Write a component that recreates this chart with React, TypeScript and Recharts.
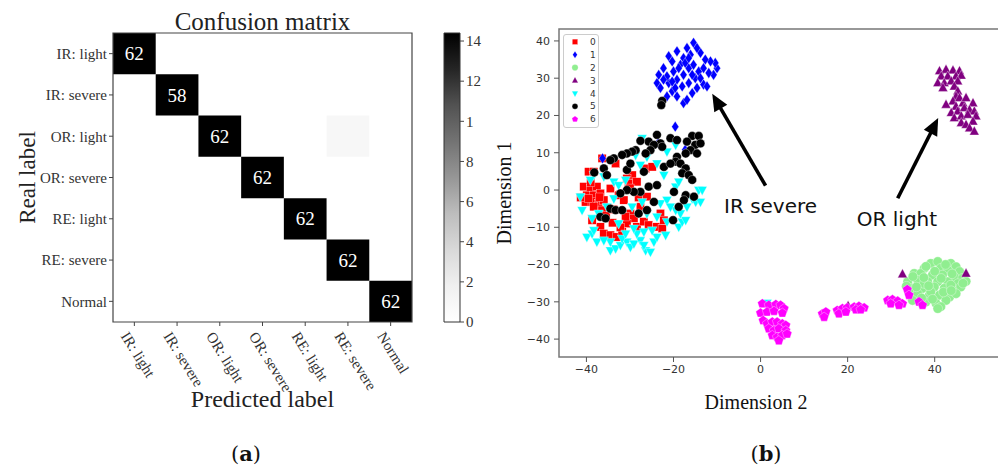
import React from 'react';
import {
  ScatterChart, Scatter, XAxis, YAxis, ReferenceArea, ReferenceLine, ReferenceDot,
  BarChart, Bar, Legend,
} from 'recharts';

// ---------- Panel (a): confusion matrix ----------
const classNames = ['IR: light', 'IR: severe', 'OR: light', 'OR: severe', 'RE: light', 'RE: severe', 'Normal'];
const classIndex = [0, 1, 2, 3, 4, 5, 6];
const diagonalCounts = [62, 58, 62, 62, 62, 62, 62];
const offDiagonalRows = [2];
const offDiagonalCols = [5];
const offDiagonalValues = [1];
const colorbarMax = 14.4;
const colorbarTicks = [0, 2, 4, 6, 8, 10, 12, 14];
const colorbarTickLabels = ['0', '2', '4', '6', '8', '1', '12', '14'];

// ---------- Panel (b): t-SNE scatter ----------
const tsneClasses = ['0', '1', '2', '3', '4', '5', '6'];
const tsneXTicks = [-40, -20, 0, 20, 40];
const tsneYTicks = [-40, -30, -20, -10, 0, 10, 20, 30, 40];
const tsneXDomain = [-46.3, 55];
const tsneYDomain = [-44.8, 43.2];

const class0: number[][] = [
  [-39.5, 4.9], [-38.3, 4.9], [-36.4, 8.5], [-33.3, 7.1], [-29.5, 4.0], [-30.7, 3.1], [-28.4, 2.2], [-26.4, 5.8],
  [-24.9, 6.2], [-40.6, 0.9], [-39.1, 0.4], [-37.6, 0.9], [-39.9, -1.4], [-38.3, -1.4], [-36.8, -0.9], [-40.2, -3.2],
  [-38.7, -3.2], [-37.2, -3.6], [-36.0, -2.7], [-38.3, -4.5], [-34.5, 0.4], [-32.6, -1.4], [-31.4, -2.7], [-29.9, -6.3],
  [-29.1, -7.6], [-30.7, -9.0], [-28.4, -9.9], [-26.8, -8.5], [-25.7, -9.4], [-23.8, -9.9], [-22.6, -10.3], [-23.0, -6.3],
  [-22.2, -8.1], [-36.8, -9.9], [-36.0, -11.7], [-34.5, -12.1], [-33.0, -12.6], [-31.8, -11.2], [-36.4, -5.4], [-38.7, -8.1],
  [-27.6, -4.5], [-26.1, -1.8], [-30.3, 1.8], [-41.3, -2.0], [-39.5, -2.3], [-37.0, -1.9], [-39.0, 2.0], [-35.5, -6.8],
  [-33.8, -5.2], [-31.0, -7.2], [-28.0, -2.0], [-30.0, 0.5], [-34.0, -8.8], [-32.2, -10.0],
];
const class1: number[][] = [
  [-15.4, 39.5], [-16.9, 38.1], [-19.2, 37.2], [-21.1, 35.9], [-20.3, 34.5], [-22.3, 32.7], [-23.4, 30.9], [-23.8, 28.7],
  [-23.0, 27.4], [-21.5, 25.1], [-20.3, 26.5], [-19.2, 25.1], [-17.7, 23.3], [-16.9, 24.2], [-15.7, 26.0], [-14.6, 27.4],
  [-13.1, 28.3], [-12.3, 27.8], [-10.8, 30.9], [-10.0, 32.7], [-10.4, 34.1], [-11.5, 34.5], [-12.7, 35.0], [-13.8, 36.8],
  [-14.6, 38.1], [-16.1, 36.3], [-17.7, 35.4], [-18.4, 33.6], [-20.0, 31.8], [-19.2, 29.6], [-17.7, 30.9], [-16.5, 32.7],
  [-15.4, 33.6], [-14.2, 31.8], [-15.0, 30.0], [-16.5, 28.7], [-18.0, 27.8], [-19.6, 27.4], [-21.1, 28.7], [-21.5, 30.5],
  [-20.3, 29.1], [-15.7, 30.9], [-13.1, 32.7], [-11.9, 31.4], [-13.8, 30.0], [-18.8, 32.7], [-17.3, 34.1], [-16.5, 35.4],
  [-22.3, 29.6], [-19.6, 17.0], [-36.3, 8.5], [-23.5, 12.6], [-17.3, 10.8],
];
const class2: number[][] = [
  [39.1, -19.7], [40.7, -19.2], [43.7, -19.7], [44.9, -20.6], [37.6, -21.0], [41.4, -21.0], [43.0, -21.5], [45.7, -21.9],
  [35.3, -22.4], [36.8, -22.4], [39.5, -22.8], [41.8, -22.8], [44.5, -23.3], [46.4, -23.7], [33.8, -24.6], [36.1, -24.2],
  [38.4, -24.6], [40.7, -24.6], [43.0, -24.6], [45.3, -25.1], [34.5, -26.4], [37.2, -26.4], [39.9, -26.0], [42.2, -26.4],
  [44.1, -26.9], [46.0, -26.0], [36.1, -27.8], [38.8, -28.2], [41.1, -28.2], [43.4, -28.7], [44.9, -27.8], [34.9, -29.6],
  [38.0, -30.0], [40.3, -30.4], [42.6, -29.6], [41.4, -31.3], [40.7, -31.8], [37.6, -25.1], [43.7, -25.5], [39.1, -27.3],
  [38.0, -20.5], [42.5, -20.0], [35.0, -23.2], [40.0, -21.8], [44.0, -22.5], [47.2, -24.5], [37.5, -23.5], [41.5, -23.7],
  [35.8, -26.0], [38.6, -25.7], [42.0, -27.4], [46.5, -25.0], [37.0, -29.0], [39.5, -29.3], [43.8, -27.0], [33.5, -25.8],
];
const class3: number[][] = [
  [41.1, 31.9], [42.6, 32.3], [44.2, 32.1], [45.7, 31.9], [41.5, 30.5], [43.0, 30.5], [44.9, 30.5], [46.1, 30.7],
  [40.7, 28.7], [42.2, 28.7], [43.8, 29.2], [45.3, 29.2], [41.9, 27.4], [44.5, 27.8], [45.3, 26.5], [44.9, 25.1],
  [44.2, 23.8], [45.7, 24.7], [42.6, 22.9], [44.9, 22.4], [46.5, 23.3], [47.2, 24.7], [48.8, 23.3], [43.8, 20.7],
  [45.3, 21.1], [46.8, 22.0], [48.0, 21.5], [49.1, 21.1], [44.5, 19.3], [46.1, 19.8], [47.6, 20.2], [49.5, 19.8],
  [46.1, 18.0], [47.2, 17.5], [48.8, 18.4], [48.0, 16.6], [49.1, 15.7], [32.6, -22.6], [47.2, -22.4], [20.1, -31.1],
];
const class4: number[][] = [
  [-39.9, -12.6], [-38.7, -11.7], [-37.6, -13.9], [-38.3, -10.8], [-34.5, -16.2], [-33.3, -15.7], [-32.2, -14.8], [-30.7, -13.9],
  [-29.9, -15.3], [-29.1, -14.4], [-27.6, -13.5], [-26.4, -16.2], [-25.3, -16.6], [-24.5, -13.9], [-26.8, -14.8], [-23.8, -12.6],
  [-21.8, -12.1], [-34.5, -13.9], [-36.0, -13.5], [-31.8, -13.0], [-31.0, -11.7], [-28.4, -11.7], [-26.8, -11.2], [-24.9, -10.8],
  [-21.5, -8.5], [-18.8, -9.9], [-18.0, -8.5], [-17.2, -8.1], [-18.4, -6.3], [-16.9, -4.5], [-19.5, -5.4], [-15.7, -2.3],
  [-14.2, 0.0], [-13.4, 0.0], [-14.9, -3.2], [-13.8, -3.2], [-41.4, -1.8], [-41.0, -5.4], [-38.7, -7.6], [-37.2, -6.3],
  [-35.3, -4.5], [-33.7, -2.3], [-29.5, -4.5], [-27.2, -3.2], [-23.0, -3.6], [-21.5, -2.7], [-19.5, 0.9], [-18.8, 2.2],
  [-22.2, 4.0], [-23.8, 7.1], [-21.5, 10.3], [-19.5, 12.1], [-26.1, 8.9], [-27.6, 6.7], [-28.7, 9.4], [-31.0, 2.7],
  [-33.7, 2.2], [-32.6, 1.3], [-36.0, 3.6], [-38.3, 4.0], [-39.1, 2.7], [-23.8, -7.2], [-20.7, -4.5], [-26.1, -6.3],
  [-29.1, -10.3], [-32.6, -9.0], [-27.2, 13.9], [1.5, -30.3],
];
const class5: number[][] = [
  [-23.8, 14.8], [-25.7, 13.0], [-27.6, 13.2], [-23.0, 12.5], [-20.7, 13.9], [-19.2, 13.4], [-15.7, 14.5], [-14.2, 14.5],
  [-16.9, 13.0], [-15.0, 12.1], [-13.8, 12.5], [-16.1, 10.7], [-14.6, 9.8], [-17.2, 9.8], [-19.2, 8.9], [-19.5, 7.6],
  [-18.4, 7.1], [-17.2, 5.8], [-18.0, 4.5], [-16.5, 4.0], [-15.7, 2.7], [-22.6, 11.6], [-24.5, 12.1], [-25.3, 10.7],
  [-26.4, 9.8], [-28.7, 10.7], [-29.5, 10.3], [-30.7, 9.8], [-31.8, 9.4], [-33.7, 8.5], [-34.5, 8.0], [-36.0, 5.8],
  [-35.3, 4.0], [-30.7, 5.4], [-29.9, 7.1], [-26.8, 4.9], [-25.7, 0.9], [-23.8, 1.3], [-27.6, -0.5], [-29.1, -0.5],
  [-30.7, 0.0], [-32.2, -0.9], [-34.5, -5.0], [-33.3, -5.4], [-31.8, -5.4], [-36.8, -7.2], [-35.6, -7.6], [-28.0, -6.3],
  [-26.1, -5.4], [-24.5, -3.2], [-19.9, -0.5], [-18.8, -4.5], [-20.1, -8.1], [-17.2, -1.4], [-15.3, -1.8], [-17.6, -2.7],
  [-22.2, 6.2], [-20.7, 7.1], [-22.6, 23.9], [-22.8, 22.8], [-38.2, 4.7],
];
const class6: number[][] = [
  [0.4, -30.5], [1.9, -30.9], [3.5, -30.7], [4.6, -30.9], [5.4, -31.8], [0.0, -33.0], [1.5, -32.7], [3.1, -32.5],
  [5.0, -33.0], [0.6, -35.0], [1.5, -35.9], [2.7, -35.4], [3.8, -35.4], [5.0, -35.9], [5.8, -36.3], [1.9, -37.2],
  [3.1, -37.7], [4.2, -37.2], [5.8, -37.7], [2.7, -39.0], [3.8, -39.5], [5.0, -39.0], [6.1, -38.6], [4.2, -40.4],
  [14.2, -33.2], [15.0, -32.7], [14.6, -34.1], [17.6, -32.3], [18.8, -31.8], [19.9, -31.6], [18.0, -33.2], [19.6, -32.7],
  [21.5, -31.4], [22.6, -31.2], [23.8, -31.6], [21.9, -32.1], [23.0, -32.1], [29.2, -29.6], [30.3, -29.4], [31.5, -29.8],
  [32.6, -30.5], [29.9, -30.5], [31.8, -30.9], [33.7, -26.7], [34.1, -28.2], [36.4, -30.0], [37.2, -30.9],
];
const tsneSeries = [class0, class1, class2, class3, class4, class5, class6];

const annotationLabels = ['IR severe', 'OR light'];
const annotationTextX = [-8.4, 22.1];
const annotationTextY = [-6.1, -9.7];
const arrowTail = [[1.15, 1.16], [31.5, -2.2]];
const arrowHead = [[-11.1, 25.8], [40.8, 19.3]];

// ---------- styles ----------
const SERIF = "'Liberation Serif', 'Times New Roman', serif";
const SANS = "'DejaVu Sans', sans-serif";
const COLORS = ['#ff0000', '#0000ff', '#90ee90', '#800080', '#00ffff', '#000000', '#ff00ff'];
const GREYS = ['#ffffff', '#f0f0f0', '#d9d9d9', '#bdbdbd', '#969696', '#737373', '#525252', '#252525', '#000000'];

function hexToRgb(h: string) {
  return [parseInt(h.slice(1, 3), 16), parseInt(h.slice(3, 5), 16), parseInt(h.slice(5, 7), 16)];
}
function greyFor(v: number) {
  const t = Math.max(0, Math.min(1, v / colorbarMax)) * 8;
  const i = Math.floor(t);
  if (i >= 8) return GREYS[8];
  const f = t - i;
  const a = hexToRgb(GREYS[i]);
  const b = hexToRgb(GREYS[i + 1]);
  const c = a.map((av, k) => Math.round(av + (b[k] - av) * f));
  return `rgb(${c[0]},${c[1]},${c[2]})`;
}

const cells = [
  ...classIndex.map((i) => ({ row: i, col: i, value: diagonalCounts[i] })),
  ...offDiagonalRows.map((r, k) => ({ row: r, col: offDiagonalCols[k], value: offDiagonalValues[k] })),
];

function marker(cls: number, cx: number, cy: number, s = 1, key?: any) {
  const fill = COLORS[cls];
  const st = { stroke: '#ffffff', strokeWidth: 0.35 * s };
  switch (cls) {
    case 0:
      return <rect key={key} x={cx - 4.1 * s} y={cy - 4.1 * s} width={8.2 * s} height={8.2 * s} fill={fill} {...st} />;
    case 1:
      return <polygon key={key} points={`${cx},${cy - 5.4 * s} ${cx + 3.6 * s},${cy} ${cx},${cy + 5.4 * s} ${cx - 3.6 * s},${cy}`} fill={fill} {...st} />;
    case 2:
      return <circle key={key} cx={cx} cy={cy} r={4.8 * s} fill={fill} {...st} />;
    case 3:
      return <polygon key={key} points={`${cx},${cy - 5.4 * s} ${cx + 4.8 * s},${cy + 3.5 * s} ${cx - 4.8 * s},${cy + 3.5 * s}`} fill={fill} {...st} />;
    case 4:
      return <polygon key={key} points={`${cx},${cy + 5.4 * s} ${cx + 4.8 * s},${cy - 3.5 * s} ${cx - 4.8 * s},${cy - 3.5 * s}`} fill={fill} {...st} />;
    case 5:
      return <circle key={key} cx={cx} cy={cy} r={4.4 * s} fill={fill} {...st} />;
    default: {
      const pts = [0, 1, 2, 3, 4].map((k) => {
        const a = -Math.PI / 2 + (k * 2 * Math.PI) / 5;
        return `${cx + 5 * s * Math.cos(a)},${cy + 5 * s * Math.sin(a)}`;
      }).join(' ');
      return <polygon key={key} points={pts} fill={fill} {...st} />;
    }
  }
}

const CMXTick = (props: any) => {
  const { x, y, payload } = props;
  const px = x - 14;
  const py = y + 8;
  return (
    <text x={px} y={py} transform={`rotate(58, ${px}, ${py})`} textAnchor="start" fontSize={15} fontFamily={SERIF} fill="#333">
      {classNames[payload.value]}
    </text>
  );
};

const CellText = (props: any) => {
  const { cx, cy, payload } = props;
  if (!payload || payload.value < 10) return <g />;
  return (
    <text x={cx} y={cy} dy="0.35em" textAnchor="middle" fontSize={19} fontFamily={SERIF} fill="#ffffff">
      {payload.value}
    </text>
  );
};

const Arrow = (p: any) => {
  const { x1, y1, x2, y2 } = p;
  const dx = x2 - x1;
  const dy = y2 - y1;
  const len = Math.hypot(dx, dy) || 1;
  const ux = dx / len;
  const uy = dy / len;
  const hl = 17;
  const hw = 7.5;
  const bx = x2 - ux * hl;
  const by = y2 - uy * hl;
  return (
    <g>
      <line x1={x1} y1={y1} x2={bx + ux * 2} y2={by + uy * 2} stroke="#000" strokeWidth={3.6} />
      <polygon points={`${x2},${y2} ${bx - uy * hw},${by + ux * hw} ${bx + uy * hw},${by - ux * hw}`} fill="#000" />
    </g>
  );
};

const TsneLegend = () => (
  <div style={{ border: '1px solid #cccccc', borderRadius: 3, background: '#fff', width: 36, height: 94, boxSizing: 'border-box' }}>
    <svg width={34} height={92} style={{ display: 'block' }}>
      {tsneClasses.map((c, i) => (
        <g key={c}>
          {marker(i, 11, 6.8 + i * 12.9, 0.65)}
          <text x={26} y={6.8 + i * 12.9} dy="0.35em" fontSize={9} fontFamily={SANS} fill="#333">{c}</text>
        </g>
      ))}
    </svg>
  </div>
);

const minus = (v: number) => String(v).replace('-', '\u2212');

export default function App() {
  const tsneData = tsneSeries.map((pts) => pts.map((p) => ({ x: p[0], y: p[1] })));
  return (
    <div style={{ position: 'absolute', left: 0, top: 0, width: 998, height: 468, overflow: 'hidden', background: '#fff' }}>
      {/* Panel (a) confusion matrix */}
      <div style={{ position: 'absolute', left: 0, top: 0 }}>
        <ScatterChart width={440} height={430} margin={{ top: 33, right: 28, bottom: 48, left: 33 }}>
          <XAxis
            type="number" dataKey="col" domain={[-0.5, 6.5]} ticks={classIndex} interval={0} height={60}
            axisLine={false} tickLine={{ stroke: '#444' }} tickSize={4} tickMargin={2} tick={<CMXTick />}
            label={(p: any) => (
              <text x={p.viewBox.x + p.viewBox.width / 2} y={p.viewBox.y + 85} textAnchor="middle" fontSize={24} fontFamily={SERIF} fill="#222">
                Predicted label
              </text>
            )}
          />
          <YAxis
            type="number" dataKey="row" domain={[-0.5, 6.5]} reversed ticks={classIndex} interval={0} width={80}
            axisLine={false} tickLine={{ stroke: '#444' }} tickSize={4} tickMargin={2}
            tick={{ fontSize: 15, fontFamily: SERIF, fill: '#333' }}
            tickFormatter={(v: number) => classNames[v]}
            label={(p: any) => {
              const x = p.viewBox.x + 2;
              const y = p.viewBox.y + p.viewBox.height / 2;
              return (
                <text x={x} y={y} transform={`rotate(-90, ${x}, ${y})`} textAnchor="middle" fontSize={23} fontFamily={SERIF} fill="#222">
                  Real label
                </text>
              );
            }}
          />
          {cells.map((c, k) => (
            <ReferenceArea key={k} x1={c.col - 0.5} x2={c.col + 0.5} y1={c.row - 0.5} y2={c.row + 0.5} fill={greyFor(c.value)} fillOpacity={1} stroke="none" />
          ))}
          <ReferenceArea
            x1={-0.5} x2={6.5} y1={-0.5} y2={6.5} fill="none" fillOpacity={0} stroke="#444" strokeWidth={1.2}
            label={(p: any) => (
              <text x={p.viewBox.x + p.viewBox.width / 2} y={p.viewBox.y - 3} textAnchor="middle" fontSize={25} fontFamily={SERIF} fill="#222">
                Confusion matrix
              </text>
            )}
          />
          <Scatter data={cells} isAnimationActive={false} shape={CellText} />
        </ScatterChart>
      </div>

      {/* Colorbar */}
      <div style={{ position: 'absolute', left: 420, top: 0 }}>
        <BarChart width={80} height={360} data={[{ name: 'cb', v: colorbarMax }]} margin={{ top: 33, right: 0, bottom: 38, left: 24 }} barCategoryGap={0}>
          <defs>
            <linearGradient id="cbGrad" x1="0" y1="1" x2="0" y2="0">
              {GREYS.map((g, i) => (
                <stop key={i} offset={`${(i / 8) * 100}%`} stopColor={g} />
              ))}
            </linearGradient>
          </defs>
          <XAxis dataKey="name" hide />
          <YAxis
            orientation="right" type="number" domain={[0, colorbarMax]} ticks={colorbarTicks} interval={0} width={40}
            axisLine={false} tickLine={{ stroke: '#444' }} tickSize={4} tickMargin={2}
            tick={{ fontSize: 15, fontFamily: SERIF, fill: '#333' }}
            tickFormatter={(v: number) => colorbarTickLabels[colorbarTicks.indexOf(v)]}
          />
          <Bar dataKey="v" fill="url(#cbGrad)" stroke="#333" strokeWidth={1} isAnimationActive={false} />
        </BarChart>
      </div>

      {/* Panel (b) t-SNE scatter */}
      <div style={{ position: 'absolute', left: 490, top: 0 }}>
        <ScatterChart width={510} height={430} margin={{ top: 29, right: 0, bottom: 43, left: 19 }}>
          <XAxis
            type="number" dataKey="x" domain={tsneXDomain} ticks={tsneXTicks} interval={0} height={30} allowDataOverflow
            axisLine={false} tickLine={{ stroke: '#555' }} tickSize={5} tickMargin={3}
            tick={{ fontSize: 11, fontFamily: SANS, fill: '#333' }} tickFormatter={minus}
            label={(p: any) => (
              <text x={p.viewBox.x + 197} y={p.viewBox.y + 52} textAnchor="middle" fontSize={20} fontFamily={SERIF} fill="#111">
                Dimension 2
              </text>
            )}
          />
          <YAxis
            type="number" dataKey="y" domain={tsneYDomain} ticks={tsneYTicks} interval={0} width={50} allowDataOverflow
            axisLine={false} tickLine={{ stroke: '#555' }} tickSize={5} tickMargin={4}
            tick={{ fontSize: 11, fontFamily: SANS, fill: '#333' }} tickFormatter={minus}
            label={(p: any) => {
              const x = p.viewBox.x + 2;
              const y = p.viewBox.y + p.viewBox.height / 2;
              return (
                <text x={x} y={y} transform={`rotate(-90, ${x}, ${y})`} textAnchor="middle" fontSize={20} fontFamily={SERIF} fill="#111">
                  Dimension 1
                </text>
              );
            }}
          />
          <ReferenceArea x1={tsneXDomain[0]} x2={tsneXDomain[1]} y1={tsneYDomain[0]} y2={tsneYDomain[1]} fill="none" fillOpacity={0} stroke="#777" strokeWidth={1.5} />
          {tsneData.map((d, cls) => (
            <Scatter key={cls} name={tsneClasses[cls]} data={d} isAnimationActive={false} shape={(p: any) => marker(cls, p.cx, p.cy)} />
          ))}
          {annotationLabels.map((lab, k) => (
            <ReferenceLine
              key={`arrow${k}`}
              segment={[{ x: arrowTail[k][0], y: arrowTail[k][1] }, { x: arrowHead[k][0], y: arrowHead[k][1] }]}
              shape={Arrow}
            />
          ))}
          {annotationLabels.map((lab, k) => (
            <ReferenceDot
              key={`lab${k}`} x={annotationTextX[k]} y={annotationTextY[k]} r={1}
              shape={(p: any) => (
                <text x={p.cx} y={p.cy} fontSize={20} fontFamily={SANS} fill="#111">{lab}</text>
              )}
            />
          ))}
          <Legend
            layout="vertical" align="center" verticalAlign="middle" content={<TsneLegend />}
            wrapperStyle={{ position: 'absolute', left: 73, top: 34, width: 36, height: 94 }}
          />
        </ScatterChart>
      </div>

      {/* Panel captions */}
      <svg width={998} height={468} style={{ position: 'absolute', left: 0, top: 0, pointerEvents: 'none' }}>
        <text x={246} y={461} textAnchor="middle" fontSize={21} fontFamily="'DejaVu Serif', serif" fill="#111">
          (<tspan fontWeight="bold">a</tspan>)
        </text>
        <text x={766} y={461} textAnchor="middle" fontSize={21} fontFamily="'DejaVu Serif', serif" fill="#111">
          (<tspan fontWeight="bold">b</tspan>)
        </text>
      </svg>
    </div>
  );
}
